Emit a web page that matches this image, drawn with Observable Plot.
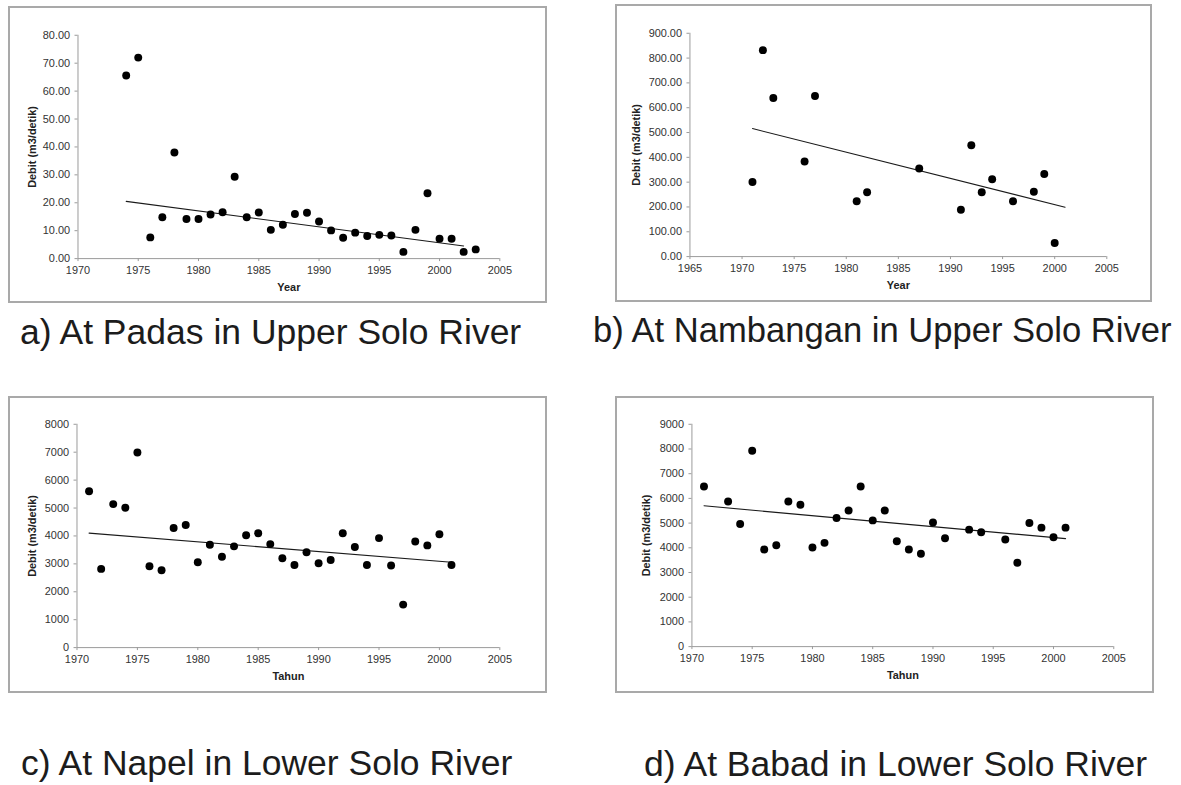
<!DOCTYPE html>
<html>
<head>
<meta charset="utf-8">
<script src="https://cdn.jsdelivr.net/npm/d3@7"></script>
<script src="https://cdn.jsdelivr.net/npm/@observablehq/plot@0.6"></script>
<style>
  html, body { margin: 0; padding: 0; background: #fff; width: 1181px; height: 785px; overflow: hidden; }
  .panel { position: absolute; border: 2px solid #a9a9a9; box-sizing: border-box; background: #fff; }
  .panel svg { position: absolute; left: -2px; top: -2px; overflow: visible; }
  .caption { position: absolute; font-family: "Liberation Sans", Arial, sans-serif; font-size: 35.5px; line-height: 35px; color: #1c1c1c; white-space: nowrap; }
  svg [aria-label="x-axis label"], svg [aria-label="y-axis label"] { font-weight: bold; font-size: 11px; fill: #222; }
</style>
</head>
<body>
<script>
// ---- Data ----
// a) Padas, Upper Solo River
const yearsA = [1974,1975,1976,1977,1978,1979,1980,1981,1982,1983,1984,1985,1986,1987,1988,1989,1990,1991,1992,1993,1994,1995,1996,1997,1998,1999,2000,2001,2002,2003];
const debitA = [65.6,72.0,7.6,14.8,38.0,14.2,14.2,15.8,16.6,29.3,14.8,16.5,10.3,12.1,16.0,16.4,13.3,10.1,7.5,9.3,8.1,8.5,8.3,2.4,10.3,23.4,7.1,7.1,2.4,3.3];
// b) Nambangan, Upper Solo River
const yearsB = [1971,1972,1973,1976,1977,1981,1982,1987,1991,1992,1993,1994,1996,1998,1999,2000];
const debitB = [301,832,639,383,647,223,259,355,189,449,259,312,223,261,333,55];
// c) Napel, Lower Solo River
const yearsC = [1971,1972,1973,1974,1975,1976,1977,1978,1979,1980,1981,1982,1983,1984,1985,1986,1987,1988,1989,1990,1991,1992,1993,1994,1995,1996,1997,1998,1999,2000,2001];
const debitC = [5604,2820,5141,5013,6990,2916,2773,4288,4395,3058,3684,3257,3627,4028,4100,3708,3200,2962,3413,3022,3140,4100,3602,2962,3922,2940,1540,3804,3662,4064,2962];
// d) Babad, Lower Solo River
const yearsD = [1971,1973,1974,1975,1976,1977,1978,1979,1980,1981,1982,1983,1984,1985,1986,1987,1988,1989,1990,1991,1993,1994,1996,1997,1998,1999,2000,2001];
const debitD = [6478,5874,4965,7926,3931,4104,5874,5741,4011,4200,5206,5512,6478,5110,5512,4265,3931,3758,5029,4385,4735,4627,4333,3396,5005,4816,4425,4816];

// ---- Trend lines (end values as drawn in the reference) ----
const trendYearsA = [1974, 2002];
const trendDebitA = [20.5, 4.5];
const trendYearsB = [1971, 2001];
const trendDebitB = [516, 199];
const trendYearsC = [1971, 2001];
const trendDebitC = [4100, 3060];
const trendYearsD = [1971, 2001];
const trendDebitD = [5700, 4370];

// ---- Ticks / labels ----
const xTicksA = [1970,1975,1980,1985,1990,1995,2000,2005];
const xTicksB = [1965,1970,1975,1980,1985,1990,1995,2000,2005];
const yTicksA = [0,10,20,30,40,50,60,70,80];
const yTicksB = [0,100,200,300,400,500,600,700,800,900];
const yTicksC = [0,1000,2000,3000,4000,5000,6000,7000,8000];
const yTicksD = [0,1000,2000,3000,4000,5000,6000,7000,8000,9000];
const yTitle = "Debit (m3/detik)";
const captions = [
  "a) At Padas in Upper Solo River",
  "b) At Nambangan in Upper Solo River",
  "c) At Napel in Lower Solo River",
  "d) At Babad in Lower Solo River"
];

function panel(cfg) {
  const data = cfg.years.map((year, i) => ({year, value: cfg.values[i]}));
  const trend = cfg.tYears.map((year, i) => ({year, value: cfg.tValues[i]}));
  const xT = cfg.xTicks, yT = cfg.yTicks;
  const chart = Plot.plot({
    width: cfg.w, height: cfg.h,
    marginLeft: cfg.m[0], marginRight: cfg.m[1], marginTop: cfg.m[2], marginBottom: cfg.m[3],
    style: {fontFamily: "'Liberation Sans', Arial, sans-serif", fontSize: "11px", background: "transparent", color: "#333"},
    x: {domain: [xT[0], xT[xT.length - 1]]},
    y: {domain: [yT[0], yT[yT.length - 1]]},
    marks: [
      Plot.ruleX([xT[0]], {stroke: "#9a9a9a"}),
      Plot.ruleY([yT[0]], {stroke: "#9a9a9a"}),
      Plot.axisX({ticks: xT, tickFormat: d => String(d), tickSize: 3, tickPadding: 5, stroke: "#9a9a9a", fill: "#333",
        label: cfg.xLabel, labelAnchor: "center", labelArrow: "none", labelOffset: 33}),
      Plot.axisY({ticks: yT, tickFormat: cfg.yFmt, tickSize: 3, tickPadding: 5, stroke: "#9a9a9a", fill: "#333",
        label: yTitle, labelAnchor: "center", labelArrow: "none", labelOffset: cfg.yOff}),
      Plot.line(trend, {x: "year", y: "value", stroke: "#1a1a1a", strokeWidth: 1.1}),
      Plot.dot(data, {x: "year", y: "value", r: 4, fill: "#000", stroke: "none"})
    ]
  });
  const box = document.createElement("div");
  box.className = "panel";
  Object.assign(box.style, {left: cfg.left + "px", top: cfg.top + "px", width: cfg.w + "px", height: cfg.h + "px"});
  box.appendChild(chart);
  document.body.appendChild(box);
}

const fmt2 = d => d.toFixed(2);
const fmt0 = d => String(d);

panel({years: yearsA, values: debitA, tYears: trendYearsA, tValues: trendDebitA, xTicks: xTicksA, yTicks: yTicksA, yFmt: fmt2, xLabel: "Year",
  left: 8, top: 6, w: 539, h: 297, m: [70, 44, 29, 43], yOff: 50});
panel({years: yearsB, values: debitB, tYears: trendYearsB, tValues: trendDebitB, xTicks: xTicksB, yTicks: yTicksB, yFmt: fmt2, xLabel: "Year",
  left: 615, top: 4, w: 537, h: 298, m: [75, 42, 29, 44], yOff: 58});
panel({years: yearsC, values: debitC, tYears: trendYearsC, tValues: trendDebitC, xTicks: xTicksA, yTicks: yTicksC, yFmt: fmt0, xLabel: "Tahun",
  left: 8, top: 396, w: 539, h: 297, m: [69, 44, 28, 44], yOff: 49});
panel({years: yearsD, values: debitD, tYears: trendYearsD, tValues: trendDebitD, xTicks: xTicksA, yTicks: yTicksD, yFmt: fmt0, xLabel: "Tahun",
  left: 615, top: 396, w: 539, h: 297, m: [77, 37, 28, 45], yOff: 50});

const capPos = [[20, 315, 35.5], [593, 313, 34.6], [21, 746, 35.5], [644, 747, 35.5]];
captions.forEach((t, i) => {
  const c = document.createElement("div");
  c.className = "caption";
  c.textContent = t;
  c.style.left = capPos[i][0] + "px";
  c.style.top = capPos[i][1] + "px";
  c.style.fontSize = capPos[i][2] + "px";
  document.body.appendChild(c);
});
</script>
</body>
</html>
